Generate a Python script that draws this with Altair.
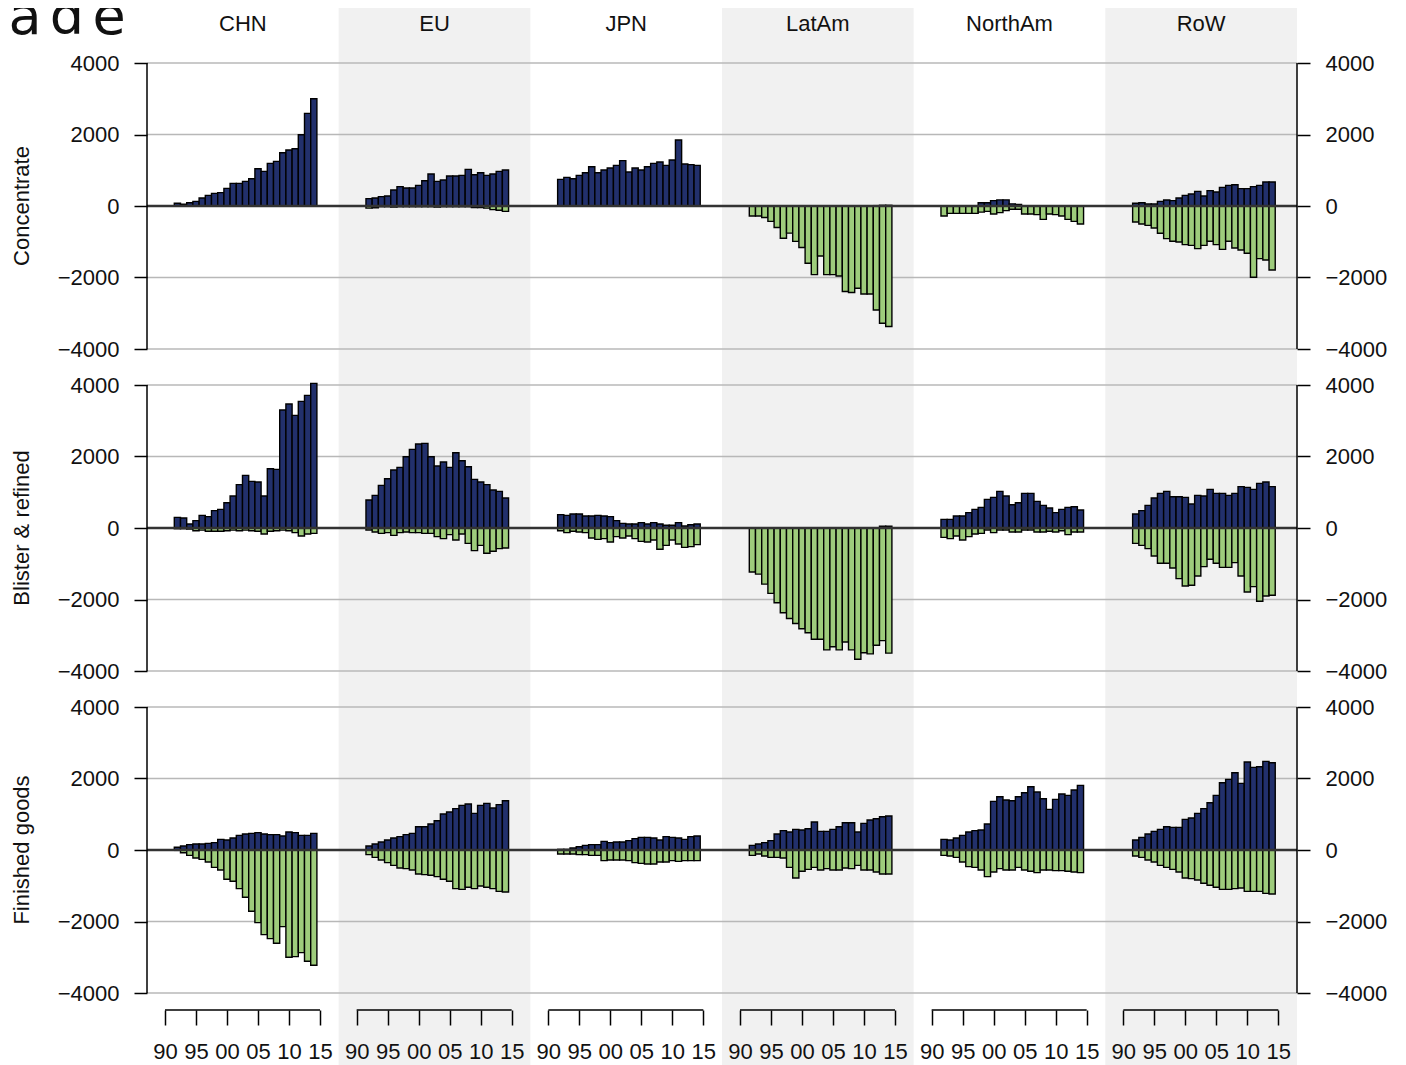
import altair as alt
import pandas as pd

# ---------------- data ----------------
YEARS = list(range(1992, 2015))
REGIONS = ["CHN", "EU", "JPN", "LatAm", "NorthAm", "RoW"]
PRODUCTS = ["Concentrate", "Blister & refined", "Finished goods"]
SHADED = ["EU", "LatAm", "RoW"]
Y_TICKS = [-4000, -2000, 0, 2000, 4000]
X_TICKS = [1990, 1995, 2000, 2005, 2010, 2015]
TITLE = "Trade"

conc_exp = {
    "CHN": [75, 47, 93, 130, 224, 298, 354, 373, 494, 634, 634, 690, 764, 1044, 969, 1193, 1249, 1491, 1566, 1603, 1994, 2591, 3001],
    "EU": [205, 224, 261, 280, 447, 541, 503, 503, 578, 708, 895, 690, 727, 839, 839, 857, 1025, 876, 932, 857, 895, 969, 1007],
    "JPN": [746, 802, 764, 857, 932, 1100, 932, 1007, 1062, 1137, 1268, 951, 1062, 1007, 1100, 1193, 1230, 1137, 1286, 1845, 1174, 1156, 1137],
    "LatAm": [0, 0, 0, 0, 0, 0, 0, 0, 0, 0, 0, 0, 0, 0, 0, 0, 0, 0, 0, 0, 10, 20, 20],
    "NorthAm": [0, 0, 0, 0, 0, 0, 90, 90, 150, 170, 170, 60, 40, 0, 0, 0, 0, 0, 0, 0, 0, 0, 0],
    "RoW": [75, 93, 56, 56, 130, 168, 149, 224, 298, 335, 410, 280, 429, 391, 522, 578, 596, 485, 485, 541, 578, 671, 671],
}
conc_imp = {
    "CHN": [0] * 23,
    "EU": [-60, -50, -20, -20, -30, -20, -20, -20, -20, -20, -20, -30, -20, -20, -20, -20, -20, -40, -40, -60, -100, -120, -150],
    "JPN": [0] * 23,
    "LatAm": [-280, -280, -320, -430, -600, -900, -760, -990, -1160, -1600, -1920, -1400, -1920, -1920, -1960, -2390, -2420, -2300, -2460, -2460, -2910, -3280, -3370],
    "NorthAm": [-280, -205, -205, -205, -205, -205, -170, -150, -224, -186, -130, -93, -93, -224, -224, -242, -373, -224, -242, -280, -373, -429, -503],
    "RoW": [-447, -503, -541, -615, -764, -913, -988, -1007, -1081, -1100, -1193, -1100, -988, -1081, -1212, -988, -1174, -1230, -1323, -1994, -1473, -1510, -1789],
}
blis_exp = {
    "CHN": [298, 280, 112, 205, 354, 317, 485, 522, 708, 895, 1212, 1473, 1305, 1286, 895, 1659, 1640, 3299, 3467, 3150, 3542, 3709, 4045],
    "EU": [783, 913, 1193, 1379, 1622, 1696, 1994, 2200, 2349, 2367, 1994, 1733, 1845, 1696, 2106, 1883, 1715, 1361, 1286, 1212, 1062, 1025, 839],
    "JPN": [373, 354, 391, 391, 335, 335, 354, 335, 317, 205, 130, 112, 112, 149, 112, 149, 112, 75, 75, 149, 56, 93, 112],
    "LatAm": [0, 0, 0, 0, 0, 0, 0, 0, 0, 0, 0, 0, 0, 0, 0, 0, 0, 0, 0, 0, 0, 50, 50],
    "NorthAm": [242, 242, 335, 335, 429, 522, 578, 802, 857, 1025, 895, 652, 708, 969, 969, 746, 634, 559, 429, 522, 578, 596, 503],
    "RoW": [391, 485, 634, 839, 969, 1025, 876, 876, 857, 671, 913, 895, 1081, 969, 969, 913, 969, 1156, 1137, 1081, 1249, 1286, 1156],
}
blis_imp = {
    "CHN": [-20, -20, -30, -75, -60, -93, -93, -93, -75, -60, -75, -60, -75, -93, -168, -93, -75, -60, -75, -130, -224, -168, -150],
    "EU": [-56, -112, -149, -130, -205, -130, -112, -130, -130, -149, -149, -242, -298, -186, -335, -168, -429, -634, -485, -708, -652, -578, -559],
    "JPN": [-75, -130, -93, -112, -130, -280, -317, -298, -391, -242, -280, -224, -298, -373, -391, -335, -596, -485, -335, -447, -541, -522, -466],
    "LatAm": [-1230, -1290, -1570, -1830, -2090, -2370, -2530, -2670, -2820, -2930, -3110, -3110, -3410, -3320, -3410, -3190, -3410, -3670, -3490, -3520, -3280, -3150, -3500],
    "NorthAm": [-261, -298, -224, -335, -242, -168, -149, -56, -130, -56, -56, -112, -112, -56, -56, -112, -112, -93, -112, -75, -186, -112, -112],
    "RoW": [-429, -485, -578, -783, -988, -988, -1118, -1417, -1622, -1603, -1342, -1081, -876, -988, -1100, -1100, -969, -1342, -1790, -1640, -2050, -1901, -1883],
}
fin_exp = {
    "CHN": [75, 112, 149, 168, 168, 186, 205, 298, 280, 335, 410, 447, 466, 485, 447, 429, 429, 391, 503, 485, 410, 410, 466],
    "EU": [112, 168, 224, 280, 335, 373, 429, 466, 652, 652, 727, 820, 1007, 1062, 1156, 1249, 1286, 1025, 1249, 1305, 1174, 1268, 1379],
    "JPN": [19, 19, 56, 93, 130, 149, 149, 242, 205, 224, 224, 261, 317, 354, 354, 335, 280, 373, 354, 335, 298, 373, 391],
    "LatAm": [130, 168, 205, 261, 447, 541, 503, 578, 559, 596, 783, 522, 522, 578, 652, 764, 764, 503, 746, 839, 876, 932, 951],
    "NorthAm": [298, 280, 335, 410, 503, 541, 559, 727, 1361, 1491, 1398, 1379, 1491, 1603, 1771, 1622, 1435, 1137, 1417, 1566, 1528, 1678, 1808],
    "RoW": [280, 354, 447, 522, 578, 652, 634, 634, 857, 895, 1025, 1156, 1323, 1528, 1883, 1976, 2162, 1864, 2461, 2311, 2330, 2479, 2442],
}
fin_imp = {
    "CHN": [-10, -75, -149, -224, -261, -335, -485, -560, -820, -876, -1081, -1323, -1715, -2032, -2367, -2479, -2610, -2144, -3001, -2983, -2871, -3113, -3225],
    "EU": [-130, -205, -280, -354, -429, -503, -522, -559, -671, -690, -708, -746, -820, -876, -1081, -1100, -1044, -1081, -1007, -1044, -1081, -1156, -1174],
    "JPN": [-112, -112, -112, -130, -130, -149, -149, -298, -280, -280, -280, -298, -354, -373, -391, -391, -335, -335, -298, -317, -298, -298, -298],
    "LatAm": [-149, -112, -168, -205, -205, -224, -485, -783, -596, -541, -485, -559, -522, -559, -559, -503, -522, -429, -559, -559, -615, -671, -671],
    "NorthAm": [-149, -168, -205, -335, -466, -485, -559, -746, -615, -522, -559, -559, -485, -559, -596, -634, -559, -559, -578, -578, -596, -615, -634],
    "RoW": [-168, -205, -280, -335, -429, -485, -541, -615, -783, -802, -839, -932, -988, -1044, -1100, -1100, -1081, -1062, -1156, -1156, -1156, -1212, -1230],
}

EXPORTS = {"Concentrate": conc_exp, "Blister & refined": blis_exp, "Finished goods": fin_exp}
IMPORTS = {"Concentrate": conc_imp, "Blister & refined": blis_imp, "Finished goods": fin_imp}

# ---------------- layout (pixels) ----------------
PLOT_W, PLOT_H = 1150, 1057
COL_W = PLOT_W / 6
TICK0 = 18          # px from column edge to the 1990 tick
PX_YR = 6.2         # px per year
ROW_STEP = 322      # px between panel rows
ROW_SPAN = 286      # px for -4000..4000
ZERO0 = 198         # px from plot top to first zero line
AXIS_Y = 1002       # px from plot top to bottom axis line
HEADER_Y = 16
TITLE_BASE = 26     # px from plot top to title baseline
TITLE_X0 = -206     # px (relative to plot left) of first title letter centre
TITLE_STEP = 42     # px letter advance (wide tracking)
U = 8000 / ROW_SPAN  # value units per px
Y_TOP = ZERO0 * U
Y_BOT = -(PLOT_H - ZERO0) * U
ROW_U = ROW_STEP * U

NAVY = "#22306c"
GREEN = "#9ecc7c"
FONT = "Liberation Sans"


def ypos(row, v):
    return v - row * ROW_U


def xpos(col, year):
    return col * COL_W + TICK0 + (year - 1990) * PX_YR


bars = []
for r, p in enumerate(PRODUCTS):
    for c, reg in enumerate(REGIONS):
        for series, src in (("exp", EXPORTS[p]), ("imp", IMPORTS[p])):
            for yr, v in zip(YEARS, src[reg]):
                if v == 0:
                    continue
                bars.append({"series": series, "x0": xpos(c, yr) - PX_YR / 2, "x1": xpos(c, yr) + PX_YR / 2,
                             "y0": ypos(r, 0), "y1": ypos(r, v)})
bars = pd.DataFrame(bars)

shade = pd.DataFrame([{"x0": i * COL_W, "x1": (i + 1) * COL_W, "y0": Y_BOT, "y1": Y_TOP}
                      for i, reg in enumerate(REGIONS) if reg in SHADED])

grid = pd.DataFrame([{"y": ypos(r, t), "x0": 0, "x1": PLOT_W} for r in range(3) for t in Y_TICKS if t != 0])
zero = pd.DataFrame([{"y": ypos(r, 0), "x0": 0, "x1": PLOT_W} for r in range(3)])
ydom = pd.DataFrame([{"x": xx, "y0": ypos(r, 4000), "y1": ypos(r, -4000)} for r in range(3) for xx in (0, PLOT_W)])
xdom = pd.DataFrame([{"x0": xpos(c, 1990), "x1": xpos(c, 2015), "y": (ZERO0 - AXIS_Y) * U} for c in range(6)])
heads = pd.DataFrame([{"x": c * COL_W + COL_W / 2, "y": (ZERO0 - HEADER_Y) * U, "t": reg} for c, reg in enumerate(REGIONS)])
rowt = pd.DataFrame([{"x": -125, "y": ypos(r, 0), "t": p} for r, p in enumerate(PRODUCTS)])
title = pd.DataFrame([{"x": TITLE_X0 + i * TITLE_STEP, "y": (ZERO0 - TITLE_BASE) * U, "t": ch}
                      for i, ch in enumerate(TITLE)])

Y_VALUES = [ypos(r, t) for r in range(3) for t in Y_TICKS]
X_VALUES = [xpos(c, t) for c in range(6) for t in X_TICKS]

xs = alt.Scale(domain=[0, PLOT_W], nice=False, zero=False)
ys = alt.Scale(domain=[Y_BOT, Y_TOP], nice=False, zero=False)

ylabel = f"format(round(datum.value + {ROW_U}*round(-datum.value/{ROW_U})), 'd')"
xlabel = (f"format((round((datum.value - {TICK0} - floor(datum.value/{COL_W})*{COL_W})/{PX_YR}) + 1990) % 100, '02d')")

axis_common = dict(values=Y_VALUES, labelExpr=ylabel, domain=False, grid=False, tickSize=13,
                   tickColor="black", tickWidth=1.5, labelFont=FONT, labelFontSize=22, labelColor="#111",
                   labelPadding=15, labelOverlap=False, title=None, zindex=1)

l_shade = alt.Chart(shade).mark_rect(color="#f1f1f1").encode(
    x=alt.X("x0:Q", scale=xs, axis=None), x2="x1", y=alt.Y("y0:Q", scale=ys, axis=None), y2="y1")

l_grid = alt.Chart(grid).mark_rule(color="#b8b8b8", strokeWidth=1.5).encode(
    x=alt.X("x0:Q", scale=xs, axis=None), x2="x1",
    y=alt.Y("y:Q", scale=ys, axis=alt.Axis(orient="left", **axis_common)))

l_bars = alt.Chart(bars).mark_rect(stroke="black", strokeWidth=1.4).encode(
    x=alt.X("x0:Q", scale=xs, axis=alt.Axis(values=X_VALUES, labelExpr=xlabel, orient="bottom",
                                             offset=-(PLOT_H - AXIS_Y), domain=False, grid=False,
                                             tickSize=15, tickColor="black", tickWidth=1.5,
                                             labelFont=FONT, labelFontSize=22, labelColor="#111",
                                             labelPadding=16, labelOverlap=False, labelFlush=False,
                                             title=None, zindex=1)),
    x2="x1",
    y=alt.Y("y0:Q", scale=ys, axis=None), y2="y1",
    color=alt.Color("series:N", scale=alt.Scale(domain=["exp", "imp"], range=[NAVY, GREEN]), legend=None))

l_zero = alt.Chart(zero).mark_rule(color="#333333", strokeWidth=2.5).encode(
    x=alt.X("x0:Q", scale=xs, axis=None), x2="x1",
    y=alt.Y("y:Q", scale=ys, axis=alt.Axis(orient="right", **axis_common)))

l_ydom = alt.Chart(ydom).mark_rule(color="black", strokeWidth=1.5).encode(
    x=alt.X("x:Q", scale=xs, axis=None), y=alt.Y("y0:Q", scale=ys, axis=None), y2="y1")

l_xdom = alt.Chart(xdom).mark_rule(color="black", strokeWidth=1.5).encode(
    x=alt.X("x0:Q", scale=xs, axis=None), x2="x1", y=alt.Y("y:Q", scale=ys, axis=None))

l_heads = alt.Chart(heads).mark_text(font=FONT, fontSize=22, color="#111", baseline="middle").encode(
    x=alt.X("x:Q", scale=xs, axis=None), y=alt.Y("y:Q", scale=ys, axis=None), text="t:N")

l_rowt = alt.Chart(rowt).mark_text(font=FONT, fontSize=22, color="#111", angle=270, baseline="middle").encode(
    x=alt.X("x:Q", scale=xs, axis=None), y=alt.Y("y:Q", scale=ys, axis=None), text="t:N")

l_title = alt.Chart(title).mark_text(font="DejaVu Sans", fontSize=54, color="#111", align="center",
                                     baseline="alphabetic").encode(
    x=alt.X("x:Q", scale=xs, axis=None), y=alt.Y("y:Q", scale=ys, axis=None), text="t:N")

chart = alt.layer(l_shade, l_grid, l_bars, l_zero, l_ydom, l_xdom, l_heads, l_rowt, l_title).resolve_axis(
    x="independent", y="independent"
).properties(
    width=PLOT_W, height=PLOT_H, autosize="none",
    padding={"left": 139, "top": 0, "right": 98, "bottom": 0},
).configure_view(stroke=None)

chart.save("out.html", embed_options={"renderer": "svg", "actions": False})
